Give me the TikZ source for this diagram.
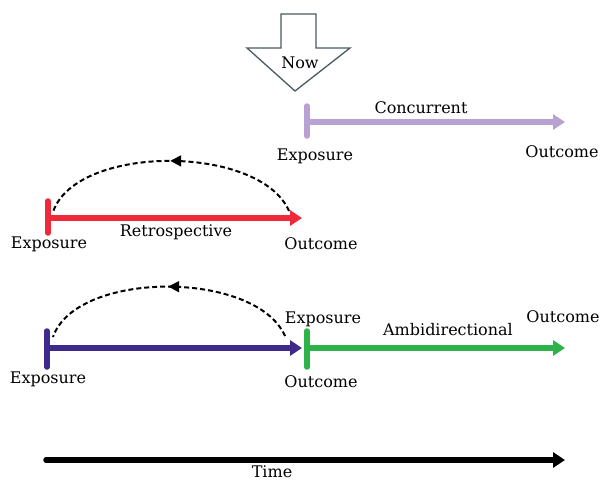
\documentclass[tikz,border=0pt]{standalone}
\usepackage{fontspec}
\setmainfont{DejaVu Serif}
\usetikzlibrary{arrows.meta,decorations.markings}
\definecolor{lav}{HTML}{B8A2D4}
\definecolor{rd}{HTML}{EE2A3A}
\definecolor{pu}{HTML}{3F2A8C}
\definecolor{gr}{HTML}{2DB34A}
\definecolor{nowc}{HTML}{4A5A60}
\begin{document}
\begin{tikzpicture}[x=1pt,y=-1pt,
 lbl/.style={font=\fontsize{16}{18}\selectfont, inner sep=0pt},
 bar/.style={line width=5.5pt, line cap=round},
 axis/.style={line width=5.5pt, -{Triangle[length=12pt,width=15pt]}},
 back/.style={dash pattern=on 5pt off 3pt, line width=2pt, black,
   postaction={decorate}, decoration={markings, mark=at position 0.5 with {\arrow{Triangle[length=11pt,width=11pt]}}}}]
\useasboundingbox (0,0) rectangle (604,482);
% Now arrow
\draw[nowc, line width=1.3pt, fill=white, line join=miter]
  (281,14) -- (316,14) -- (316,48) -- (350,48) -- (295,91) -- (247,48) -- (281,48) -- cycle;
\node[lbl] (now) at (300,63) {Now};
% Concurrent
\coordinate (c1) at (307,122); \coordinate (c2) at (565,122);
\draw[bar, lav] (307,106) -- (307,136);
\draw[axis, lav] (c1) -- (c2);
\node[lbl] (conc) at (421,108) {Concurrent};
\node[lbl] (cexp) at (315,156) {Exposure};
\node[lbl] (cout) at (562,152) {Outcome};
% Retrospective
\coordinate (r1) at (48,218); \coordinate (r2) at (302,218);
\draw[bar, rd] (48,201) -- (48,233);
\draw[axis, rd] (r1) -- (r2);
\node[lbl] (retro) at (176,232) {Retrospective};
\node[lbl] (rexp) at (49,244) {Exposure};
\node[lbl] (rout) at (321,244) {Outcome};
\coordinate (ra) at (289,211); \coordinate (rb) at (53,212);
\draw[back] (ra) .. controls (260,144) and (76,144) .. (rb);
% Ambidirectional
\coordinate (p1) at (47,348); \coordinate (p2) at (302,348);
\draw[bar, pu] (47,331) -- (47,367);
\draw[axis, pu] (p1) -- (p2);
\coordinate (g1) at (307,348); \coordinate (g2) at (565,348);
\draw[bar, gr] (307,331) -- (307,367);
\draw[axis, gr] (g1) -- (g2);
\coordinate (pa) at (285,336); \coordinate (pb) at (53,337);
\draw[back] (pa) .. controls (256,270) and (76,270) .. (pb);
\node[lbl] (aexp) at (323,319) {Exposure};
\node[lbl] (ambi) at (448,330) {Ambidirectional};
\node[lbl] (aout) at (563,317) {Outcome};
\node[lbl] (pexp) at (48,379) {Exposure};
\node[lbl] (pout) at (321,382) {Outcome};
% Time
\coordinate (t1) at (46,460); \coordinate (t2) at (565,460);
\draw[axis, black, line cap=round] (t1) -- (t2);
\node[lbl] (time) at (272,472) {Time};
\end{tikzpicture}
\end{document}
